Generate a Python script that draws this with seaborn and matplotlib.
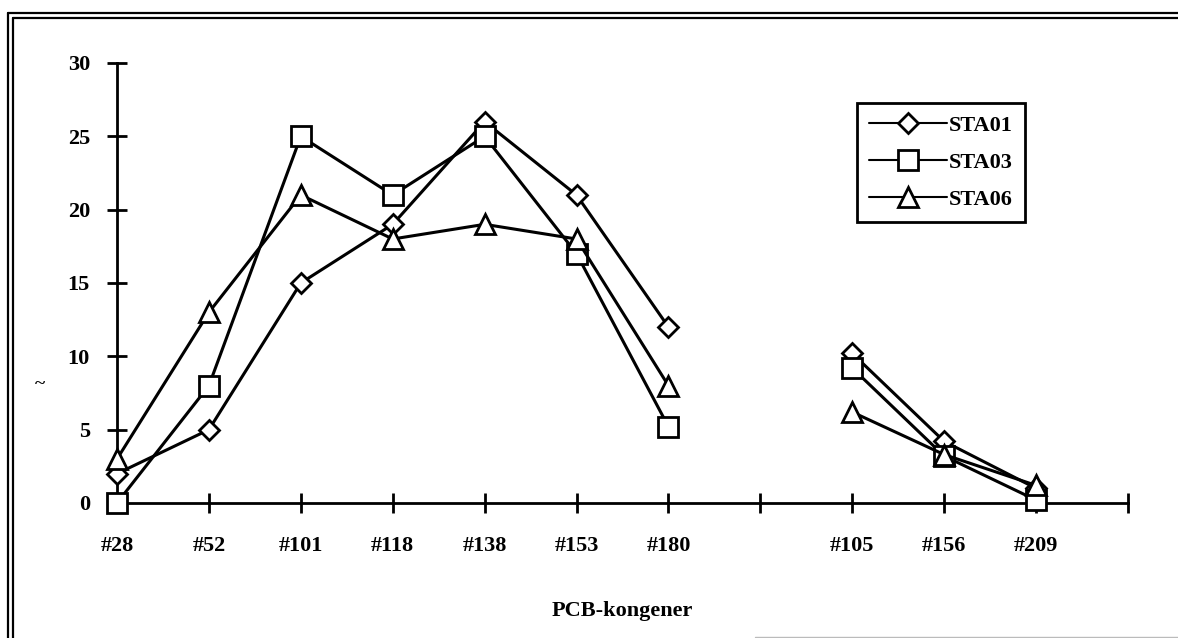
import pandas as pd
import matplotlib.pyplot as plt
import seaborn as sns
from matplotlib.lines import Line2D

congeners = ['#28', '#52', '#101', '#118', '#138', '#153', '#180', '', '#105', '#156', '#209', '']
group1 = ['#28', '#52', '#101', '#118', '#138', '#153', '#180']
group2 = ['#105', '#156', '#209']

sta01 = [2, 5, 15, 19, 26, 21, 12, 10.2, 4.2, 1.0]
sta03 = [0, 8, 25, 21, 25, 17, 5.2, 9.2, 3.2, 0.2]
sta06 = [3, 13, 21, 18, 19, 18, 8, 6.2, 3.3, 1.2]

stations = {'STA01': sta01, 'STA03': sta03, 'STA06': sta06}
markers = {'STA01': 'D', 'STA03': 's', 'STA06': '^'}
msize = {'STA01': 10.5, 'STA03': 14, 'STA06': 15}

rows = []
for name, vals in stations.items():
    for i, c in enumerate(group1 + group2):
        seg = 1 if c in group1 else 2
        rows.append({'pos': congeners.index(c), 'value': vals[i], 'station': name, 'seg': seg})
df = pd.DataFrame(rows)

sns.set_theme(style="white")
plt.rcParams['font.family'] = ['Liberation Serif', 'DejaVu Serif']
plt.rcParams['font.weight'] = 'bold'
plt.rcParams['text.color'] = 'black'
plt.rcParams['axes.labelcolor'] = 'black'

fig = plt.figure(figsize=(11.78, 6.38), dpi=100)
ax = fig.add_axes([117 / 1178, 1 - 503 / 638, 1011 / 1178, 440 / 638])

for name in stations:
    sub = df[df['station'] == name]
    sns.lineplot(data=sub, x='pos', y='value', units='seg', estimator=None,
                 color='black', lw=2.2, marker=markers[name], markersize=msize[name],
                 markerfacecolor='white', markeredgecolor='black', markeredgewidth=2,
                 ax=ax, legend=False, clip_on=False, zorder=3)

ax.set_xlim(0, 11)
ax.set_ylim(0, 30)
ax.set_xticks(range(len(congeners)))
ax.set_xticklabels(congeners)
ax.set_yticks([0, 5, 10, 15, 20, 25, 30])
for s in ['top', 'right']:
    ax.spines[s].set_visible(False)
for s in ['left', 'bottom']:
    ax.spines[s].set_linewidth(2)
    ax.spines[s].set_color('black')
ax.tick_params(axis='both', direction='inout', length=15, width=2, color='black',
               labelsize=16, labelcolor='black', bottom=True, left=True)
ax.tick_params(axis='x', pad=16)
ax.tick_params(axis='y', pad=12)
for lab in ax.get_xticklabels() + ax.get_yticklabels():
    lab.set_fontweight('bold')
ax.set_ylabel('')
ax.set_xlabel('PCB-kongener', fontsize=16, fontweight='bold', va='center', color='black')
ax.xaxis.set_label_coords(0.5, -0.245)

handles = [Line2D([0], [0], color='black', lw=1.5, marker=markers[n], markersize=msize[n],
                  markerfacecolor='white', markeredgecolor='black', markeredgewidth=2)
           for n in stations]
leg = ax.legend(handles, list(stations), loc='upper left', bbox_to_anchor=(0.732, 0.909),
                frameon=True, fancybox=False, framealpha=1, handlelength=3.5, handletextpad=0.1,
                borderpad=0.55, labelspacing=0.75, borderaxespad=0,
                prop={'size': 16, 'weight': 'bold'}, labelcolor='black')
leg.get_frame().set_edgecolor('black')
leg.get_frame().set_linewidth(2)

fig.text(40 / 1178, 1 - 385 / 638, '~', fontsize=14, ha='center', va='center')

# double frame (left and top)
for off in [8, 13]:
    fig.add_artist(Line2D([off / 1178, off / 1178], [0, 1 - (off + 5) / 638],
                          color='black', lw=1.6, transform=fig.transFigure))
    fig.add_artist(Line2D([off / 1178, 1], [1 - (off + 5) / 638, 1 - (off + 5) / 638],
                          color='black', lw=1.6, transform=fig.transFigure))
fig.add_artist(Line2D([755 / 1178, 1], [1.5 / 638, 1.5 / 638], color='#bbbbbb', lw=1,
                      transform=fig.transFigure))

plt.savefig('out.png', dpi=100)
